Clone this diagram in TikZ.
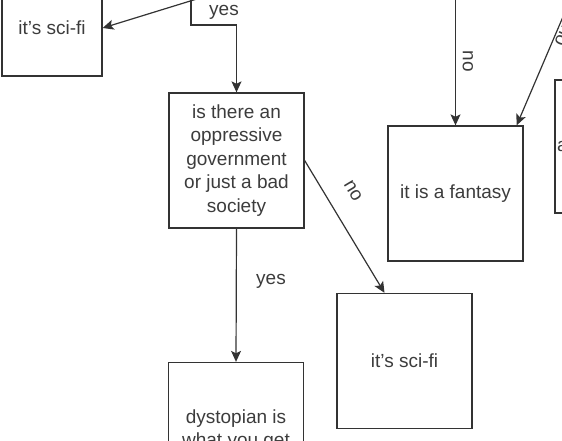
\documentclass[tikz,border=0pt]{standalone}
\usepackage{fontspec}
\setmainfont{Liberation Sans}
\usetikzlibrary{arrows.meta}
\definecolor{linecolor}{HTML}{333333}
\definecolor{textcolor}{HTML}{3C3C3C}
\tikzset{
  box/.style={draw=linecolor,line width=1.3pt,minimum width=135pt,minimum height=135pt,
              inner sep=2pt,align=center,text=textcolor,font=\fontsize{19}{23.5}\selectfont},
  arr/.style={draw=linecolor,line width=1.2pt,-{Stealth[length=11pt,width=10pt,inset=2.5pt]}},
  lbl/.style={text=textcolor,font=\fontsize{19}{23.5}\selectfont,inner sep=0pt}
}

\begin{document}
\begin{tikzpicture}[x=1pt,y=-1pt]
\useasboundingbox (0,0) rectangle (562,440);
\clip (0,0) rectangle (562,440);

% boxes
\node[box,minimum width=100pt,minimum height=96pt] (scifiA) at (52,28) {it's sci-fi};
\node[box] (govt) at (236.5,160.5) {is there an\\oppressive\\government\\or just a bad\\society};
\node[box] (fantasy) at (455.5,193.5) {it is a fantasy};
\node[box,minimum height=133pt,text width=131pt,align=left] (alien) at (622.5,146.5) {a};
\node[box] (scifiB) at (404.5,361) {it's sci-fi};
\node[box] (dystopia) at (236,430) {dystopian is\\what you get};

% loose ends coming from above
\coordinate (fromA) at (200,-2);
\coordinate (fromB) at (191,-2);
\coordinate (fromC) at (455.5,-2);
\coordinate (fromD) at (571,-2);

% connectors
\draw[arr] (fromA) -- (scifiA.east);
\draw[arr] (fromB) -- (191,25) -| (govt.north);
\node[lbl] (yesA) at (224,12) {yes};
\draw[arr] (fromC) -- (fantasy.north);
\node[lbl,rotate=-90] (noA) at (468,61) {no};
\draw[arr] (fromD) -- ([xshift=-7pt]fantasy.north east);
\node[lbl,rotate=-114] (noB) at (563,36) {no};
\draw[arr] (govt.east) -- ([xshift=-20pt]scifiB.north);
\node[lbl,rotate=-59] (noC) at (353,191) {no};
\draw[arr] (govt.south) -- (dystopia.north);
\node[lbl] (yesB) at (271,281) {yes};
\end{tikzpicture}
\end{document}
